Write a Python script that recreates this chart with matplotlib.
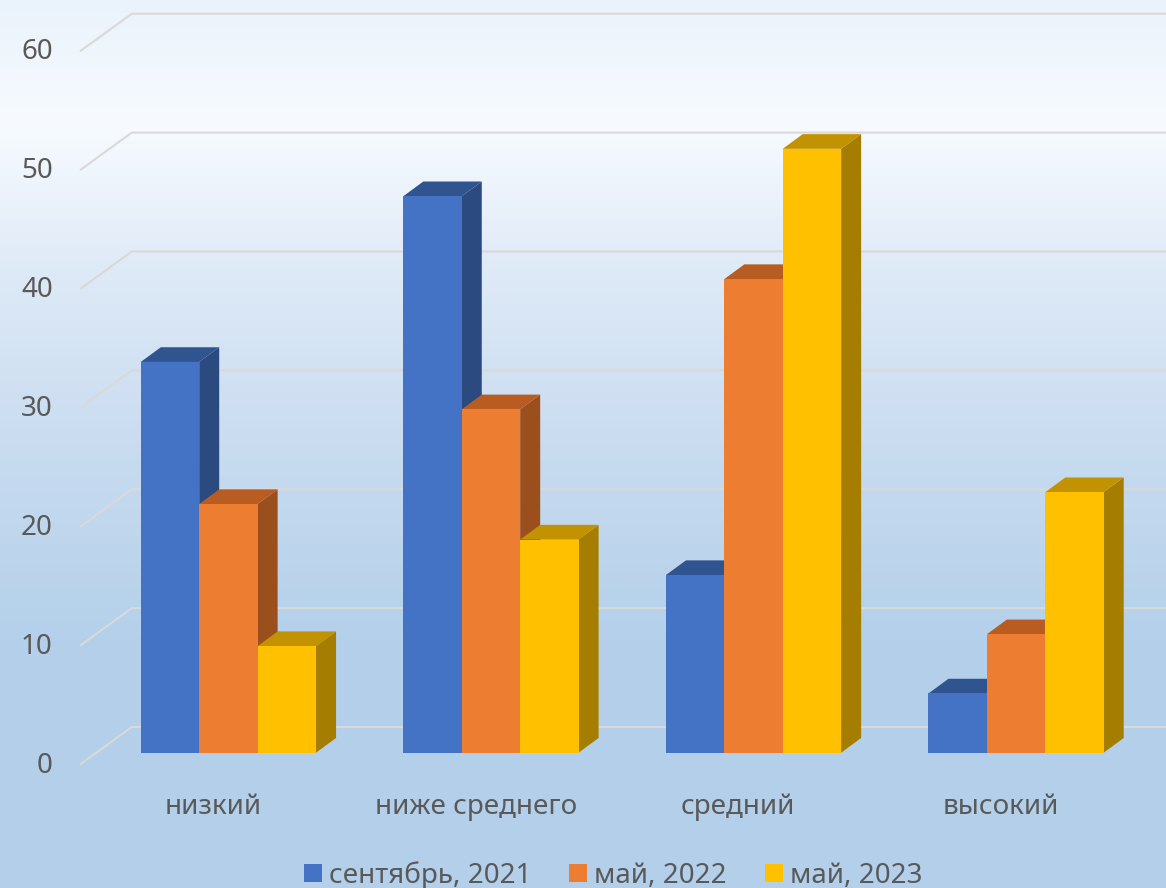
import numpy as np
import matplotlib
matplotlib.use('Agg')
import matplotlib.pyplot as plt
from matplotlib.colors import LinearSegmentedColormap
from matplotlib.patches import Patch

categorias = ['низкий', 'ниже среднего', 'средний', 'высокий']
sep_2021 = [33, 47, 15, 5]
may_2022 = [21, 29, 40, 10]
may_2023 = [9, 18, 51, 22]
series = ['сентябрь, 2021', 'май, 2022', 'май, 2023']
y_ticks = [0, 10, 20, 30, 40, 50, 60]

col_front = ['#4472c4', '#ed7d31', '#ffc000']
col_top = ['#30548f', '#b85c22', '#c29200']
col_side = ['#2a4a80', '#9b4f1c', '#a57d00']

plt.rcParams['font.family'] = ['Noto Sans', 'DejaVu Sans']
TXT = '#595959'
FS = 20

fig = plt.figure(figsize=(11.66, 8.88), dpi=100)
ax = fig.add_axes([0, 0, 1, 1])
# 1 группа = 262.5 px, 1 единица = 11.84 px
xlim = (-0.870, 3.571)
ylim = (-11.43, 63.57)
ax.set_xlim(xlim)
ax.set_ylim(ylim)
ax.axis('off')

# фон - вертикальный градиент
fondo = LinearSegmentedColormap.from_list('fondo', [
    (0.0, '#eaf2fb'), (0.14, '#f7fbff'), (0.30, '#dfeaf7'),
    (0.50, '#c9dcf0'), (0.72, '#b4d0ea'), (1.0, '#b3cfea')])
ax.imshow(np.linspace(0, 1, 256).reshape(-1, 1), cmap=fondo, aspect='auto',
          extent=(xlim[0], xlim[1], ylim[0], ylim[1]), origin='upper', zorder=0)

# сетка: боковая стенка и задняя стенка
x_front, x_back = -0.562, -0.368
for v in y_ticks:
    yf = v * 1.004 - 0.95
    yb = v * 1.004 + 2.17
    ax.plot([x_front, x_back, xlim[1]], [yf, yb, yb], color='#d9d9d9', lw=1.5,
            solid_joinstyle='miter', zorder=1)
    ax.text(x_front - 0.107, yf - 0.15, str(v), ha='right', va='center', fontsize=FS,
            color=TXT, zorder=6)

# столбцы с псевдо-3D гранями
w = 0.2225
dx, dy = 20 / 262.5, 14.7 / 11.84
z = 2
for g in range(len(categorias)):
    for i, vals in enumerate([sep_2021, may_2022, may_2023]):
        left = g + (i - 1.5) * w
        v = vals[g]
        right = left + w
        ax.fill([right, right + dx, right + dx, right], [0, dy, v + dy, v],
                color=col_side[i], lw=0, zorder=z)
        ax.fill([left, left + dx, right + dx, right], [v, v + dy, v + dy, v],
                color=col_top[i], lw=0, zorder=z)
        ax.bar(left, v, w, align='edge', color=col_front[i], lw=0, zorder=z + 0.5)
        z += 1

for g, nombre in enumerate(categorias):
    ax.text(g - 0.058, -4.55, nombre, ha='center', va='center', fontsize=FS,
            color=TXT, zorder=6)

handles = [Patch(facecolor=c, edgecolor='none', label=s)
           for c, s in zip(col_front, series)]
ax.legend(handles=handles, loc='lower center', bbox_to_anchor=(0.5257, -0.03),
          ncol=3, frameon=False, fontsize=FS, labelcolor=TXT, handlelength=0.65,
          handleheight=0.65, handletextpad=0.25, columnspacing=1.36)

fig.savefig('out.png', dpi=100)
